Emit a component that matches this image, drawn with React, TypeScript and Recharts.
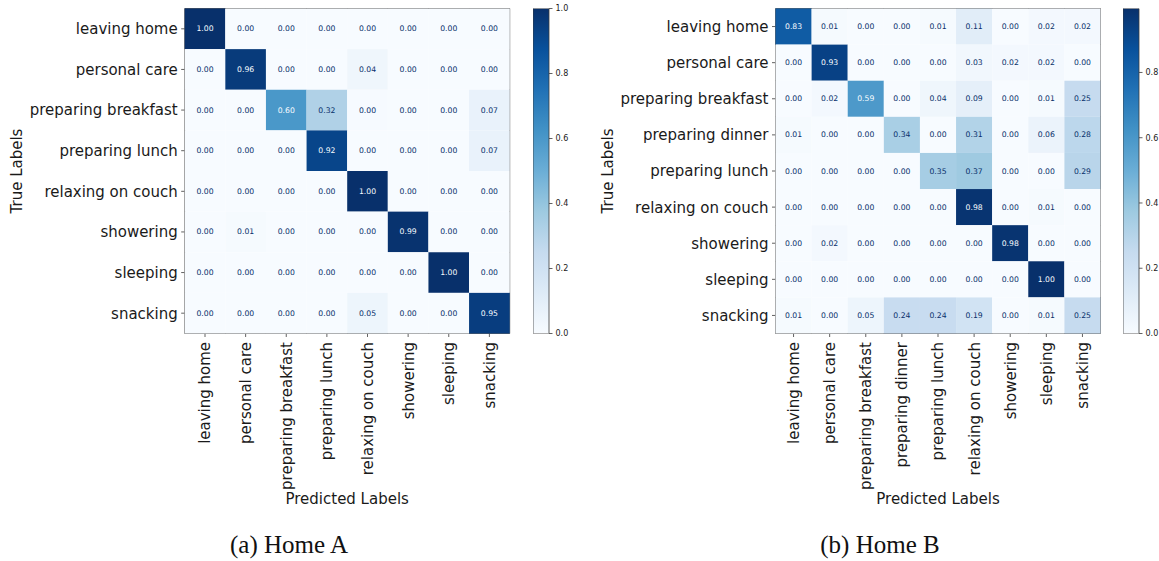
import React from 'react';
import { ScatterChart, Scatter, XAxis, YAxis, ReferenceArea, Label, BarChart, Bar } from 'recharts';

const labelsA = ['leaving home', 'personal care', 'preparing breakfast', 'preparing lunch', 'relaxing on couch', 'showering', 'sleeping', 'snacking'];
const matrixA = [
  [1.0, 0, 0, 0, 0, 0, 0, 0],
  [0, 0.96, 0, 0, 0.04, 0, 0, 0],
  [0, 0, 0.6, 0.32, 0.004, 0, 0, 0.07],
  [0, 0, 0, 0.92, 0, 0, 0, 0.07],
  [0, 0, 0, 0, 1.0, 0, 0, 0],
  [0, 0.01, 0, 0, 0, 0.99, 0, 0],
  [0, 0, 0, 0, 0, 0, 1.0, 0],
  [0, 0, 0, 0, 0.05, 0, 0, 0.95],
];
const labelsB = ['leaving home', 'personal care', 'preparing breakfast', 'preparing dinner', 'preparing lunch', 'relaxing on couch', 'showering', 'sleeping', 'snacking'];
const matrixB = [
  [0.83, 0.01, 0, 0, 0.01, 0.11, 0, 0.02, 0.02],
  [0, 0.93, 0, 0, 0, 0.03, 0.02, 0.02, 0],
  [0, 0.02, 0.59, 0, 0.04, 0.09, 0, 0.01, 0.25],
  [0.01, 0, 0, 0.34, 0, 0.31, 0, 0.06, 0.28],
  [0, 0, 0, 0, 0.35, 0.37, 0, 0, 0.29],
  [0, 0, 0, 0, 0, 0.98, 0, 0.01, 0],
  [0, 0.02, 0, 0, 0, 0, 0.98, 0, 0],
  [0, 0, 0, 0, 0, 0, 0, 0.996, 0],
  [0.01, 0, 0.05, 0.24, 0.24, 0.19, 0, 0.01, 0.25],
];
const colorbarTicksA = [0, 0.2, 0.4, 0.6, 0.8, 1.0];
const colorbarTicksB = [0, 0.2, 0.4, 0.6, 0.8];
const captionA = '(a) Home A';
const captionB = '(b) Home B';

const BLUES = ['#f7fbff', '#deebf7', '#c6dbef', '#9ecae1', '#6baed6', '#4292c6', '#2171b5', '#08519c', '#08306b'];
const FONT = '"DejaVu Sans", sans-serif';
const TEXT = '#1a1a1a';
const SPINE = '#3a3a3a';

function hexToRgb(h: string) {
  return [parseInt(h.slice(1, 3), 16), parseInt(h.slice(3, 5), 16), parseInt(h.slice(5, 7), 16)];
}
function blues(t: number) {
  const c = Math.max(0, Math.min(1, t)) * (BLUES.length - 1);
  const i = Math.min(Math.floor(c), BLUES.length - 2);
  const f = c - i;
  const a = hexToRgb(BLUES[i]);
  const b = hexToRgb(BLUES[i + 1]);
  const m = a.map((v, k) => Math.round(v + (b[k] - v) * f));
  return `rgb(${m[0]},${m[1]},${m[2]})`;
}

const PLOT = 325;
const TOP = 8.5;
const XAXIS_H = 175;

function XTick(props: any) {
  const { x, y, payload, labels } = props;
  return (
    <text x={x} y={y} transform={`rotate(-90 ${x} ${y})`} textAnchor="end" dy="0.36em" fontSize={15} fontFamily={FONT} fill={TEXT}>
      {labels[payload.value]}
    </text>
  );
}
function YTick(props: any) {
  const { x, y, payload, labels } = props;
  return (
    <text x={x} y={y} textAnchor="end" dy="0.36em" fontSize={15} fontFamily={FONT} fill={TEXT}>
      {labels[payload.value]}
    </text>
  );
}

function Matrix({ labels, matrix, left, yAxisW }: { labels: string[]; matrix: number[][]; left: number; yAxisW: number }) {
  const n = labels.length;
  const vmax = Math.max(...matrix.flat());
  const cell = PLOT / n;
  const data = matrix.flatMap((row, r) => row.map((v, c) => ({ col: c, row: r, v })));
  const idx = labels.map((_, i) => i);
  const width = yAxisW + PLOT + 20;
  const height = TOP + PLOT + XAXIS_H + 5;
  const shape = (p: any) => {
    const { cx, cy, payload } = p;
    const v = payload.v;
    return (
      <g>
        <rect x={cx - cell / 2} y={cy - cell / 2} width={cell} height={cell} fill={blues(v / vmax)} />
        <text x={cx} y={cy} textAnchor="middle" dominantBaseline="central" fontSize={7.7} fontFamily={FONT} fill={v > vmax / 2 ? '#f7fbff' : '#08306b'}>
          {v.toFixed(2)}
        </text>
      </g>
    );
  };
  return (
    <div style={{ position: 'absolute', left, top: 0 }}>
      <ScatterChart width={width} height={height} margin={{ top: TOP, right: 20, bottom: 5, left: 0 }}>
        <XAxis
          type="number"
          dataKey="col"
          domain={[-0.5, n - 0.5]}
          ticks={idx}
          interval={0}
          height={XAXIS_H}
          tickSize={3.5}
          tickMargin={5}
          axisLine={false}
          tickLine={{ stroke: SPINE, strokeWidth: 0.8 }}
          tick={<XTick labels={labels} />}
        >
          <Label
            content={(lp: any) => {
              const vb = lp.viewBox || {};
              const cx = vb.x + vb.width / 2;
              const cy = vb.y + 165.5;
              return (
                <text x={cx} y={cy} textAnchor="middle" dominantBaseline="central" fontSize={15} fontFamily={FONT} fill={TEXT}>
                  Predicted Labels
                </text>
              );
            }}
          />
        </XAxis>
        <YAxis
          type="number"
          dataKey="row"
          domain={[-0.5, n - 0.5]}
          reversed
          ticks={idx}
          interval={0}
          width={yAxisW}
          tickSize={3.5}
          tickMargin={3.5}
          axisLine={false}
          tickLine={{ stroke: SPINE, strokeWidth: 0.8 }}
          tick={<YTick labels={labels} />}
        >
          <Label
            content={(lp: any) => {
              const vb = lp.viewBox || {};
              const cx = vb.x + 17.5;
              const cy = vb.y + vb.height / 2;
              return (
                <text x={cx} y={cy} transform={`rotate(-90 ${cx} ${cy})`} textAnchor="middle" dominantBaseline="central" fontSize={15} fontFamily={FONT} fill={TEXT}>
                  True Labels
                </text>
              );
            }}
          />
        </YAxis>
        <Scatter data={data} isAnimationActive={false} shape={shape} />
        <ReferenceArea x1={-0.5} x2={n - 0.5} y1={-0.5} y2={n - 0.5} fill="none" fillOpacity={0} stroke={SPINE} strokeWidth={0.8} ifOverflow="visible" />
      </ScatterChart>
    </div>
  );
}

function Colorbar({ id, left, vmax, ticks }: { id: string; left: number; vmax: number; ticks: number[] }) {
  const data = [{ name: 'cb', v: vmax }];
  return (
    <div style={{ position: 'absolute', left, top: 0 }}>
      <BarChart width={16 + 30} height={TOP + PLOT + 6} data={data} margin={{ top: TOP, right: 0, bottom: 6, left: 0 }} barCategoryGap={0}>
        <defs>
          <linearGradient id={id} x1="0" y1="1" x2="0" y2="0">
            {BLUES.map((c, i) => (
              <stop key={i} offset={i / (BLUES.length - 1)} stopColor={c} />
            ))}
          </linearGradient>
        </defs>
        <XAxis dataKey="name" hide />
        <YAxis
          orientation="right"
          type="number"
          domain={[0, vmax]}
          ticks={ticks}
          interval={0}
          width={30}
          tickSize={3.5}
          tickMargin={3}
          axisLine={false}
          tickLine={{ stroke: SPINE, strokeWidth: 0.8 }}
          tick={{ fontSize: 8, fontFamily: FONT, fill: TEXT }}
          tickFormatter={(v: number) => v.toFixed(1)}
          allowDataOverflow
        />
        <Bar dataKey="v" fill={`url(#${id})`} stroke={SPINE} strokeWidth={0.8} isAnimationActive={false} />
      </BarChart>
    </div>
  );
}

const captionStyle: React.CSSProperties = {
  position: 'absolute',
  top: 528,
  width: 300,
  textAlign: 'center',
  fontFamily: '"Liberation Serif", serif',
  fontSize: 25,
  color: '#111',
  lineHeight: '34px',
};

export default function App() {
  return (
    <div style={{ position: 'absolute', left: 0, top: 0, width: 1159, height: 561, background: '#fff', overflow: 'hidden' }}>
      <Matrix labels={labelsA} matrix={matrixA} left={0} yAxisW={184.7} />
      <Colorbar id="cbA" left={533} vmax={Math.max(...matrixA.flat())} ticks={colorbarTicksA} />
      <Matrix labels={labelsB} matrix={matrixB} left={590} yAxisW={185.5} />
      <Colorbar id="cbB" left={1123} vmax={Math.max(...matrixB.flat())} ticks={colorbarTicksB} />
      <div style={{ ...captionStyle, left: 289 - 150 }}>{captionA}</div>
      <div style={{ ...captionStyle, left: 880 - 150 }}>{captionB}</div>
    </div>
  );
}
